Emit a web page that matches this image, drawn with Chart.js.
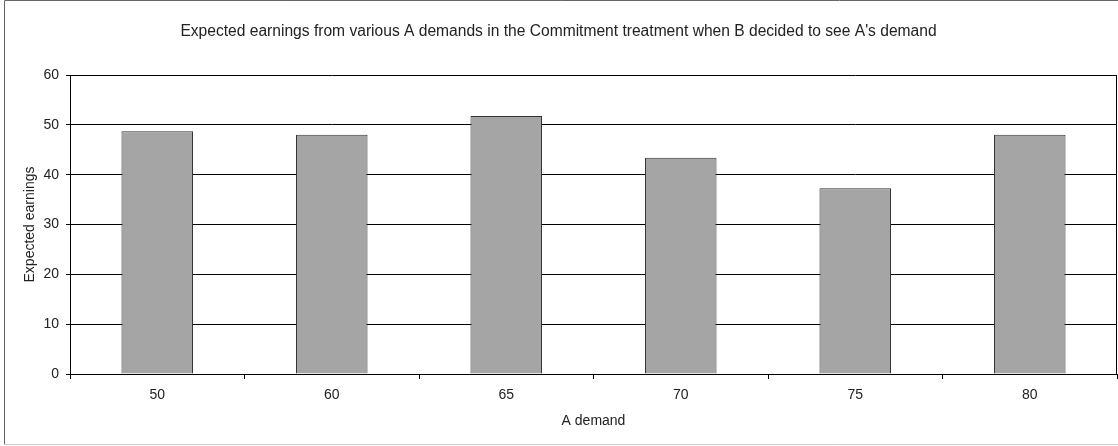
<!DOCTYPE html>
<html>
<head>
<meta charset="utf-8">
<script src="https://cdn.jsdelivr.net/npm/chart.js@4/dist/chart.umd.min.js"></script>
<style>
  html, body { margin: 0; padding: 0; background: #fff; }
  canvas { display: block; }
</style>
</head>
<body>
<canvas id="chart" width="1118" height="446"></canvas>
<script>
// data
const demands = ["50", "60", "65", "70", "75", "80"];
const earnings = [48.7, 48.0, 51.8, 43.4, 37.3, 48.0];
const yTicks = [0, 10, 20, 30, 40, 50, 60];

const fontFamily = "'Liberation Sans', Arial, sans-serif";
const textColor = "#222";

// outer frame + right edge of the plot area
const framePlugin = {
  id: "frame",
  beforeDraw(chart) {
    const ctx = chart.ctx;
    ctx.save();
    ctx.fillStyle = "#fff";
    ctx.fillRect(0, 0, chart.width, chart.height);
    ctx.lineWidth = 1;
    ctx.strokeStyle = "#666";
    ctx.beginPath();
    ctx.moveTo(4.5, 0.5);
    ctx.lineTo(chart.width, 0.5);
    ctx.moveTo(4.5, 0.5);
    ctx.lineTo(4.5, 444.5);
    ctx.stroke();
    ctx.strokeStyle = "#ccc";
    ctx.beginPath();
    ctx.moveTo(4.5, 444.5);
    ctx.lineTo(chart.width, 444.5);
    ctx.stroke();
    ctx.restore();
  },
  afterDraw(chart) {
    const a = chart.chartArea;
    const ctx = chart.ctx;
    ctx.save();
    ctx.strokeStyle = "#000";
    ctx.lineWidth = 1;
    ctx.beginPath();
    ctx.moveTo(Math.round(a.right) - 0.5, a.top);
    ctx.lineTo(Math.round(a.right) - 0.5, a.bottom);
    ctx.stroke();
    ctx.restore();
  }
};

const ctx = document.getElementById("chart").getContext("2d");
const chart = new Chart(ctx, {
  type: "bar",
  data: {
    labels: demands,
    datasets: [
      {
        label: "Expected earnings",
        data: earnings,
        backgroundColor: "#a5a5a5",
        borderColor: "#333",
        borderWidth: 1,
        barPercentage: 0.41,
        categoryPercentage: 1
      }
    ]
  },
  options: {
    responsive: false,
    animation: false,
    devicePixelRatio: 1,
    layout: { padding: { left: 0, right: 1, top: 0, bottom: 0 } },
    plugins: {
      legend: { display: false },
      tooltip: { enabled: false },
      title: {
        display: true,
        text: "Expected earnings from various A demands in the Commitment treatment when B decided to see A's demand",
        color: textColor,
        font: { family: fontFamily, size: 15.6, weight: "normal" },
        padding: { top: 22.6, bottom: 33.7 }
      }
    },
    scales: {
      x: {
        grid: {
          drawOnChartArea: false,
          offset: true,
          tickLength: 5,
          color: "#000"
        },
        border: { color: "#000" },
        ticks: {
          color: textColor,
          font: { family: fontFamily, size: 14 },
          padding: 8
        },
        title: {
          display: true,
          text: "A demand",
          color: textColor,
          font: { family: fontFamily, size: 14 },
          padding: { top: 0, bottom: 16.6 }
        },
        afterFit: scale => {
          scale.height = 72;
        }
      },
      y: {
        min: 0,
        max: 60,
        afterBuildTicks: scale => {
          scale.ticks = yTicks.map(v => ({ value: v }));
        },
        grid: {
          color: "#000",
          tickLength: 4
        },
        border: { color: "#000" },
        ticks: {
          color: textColor,
          font: { family: fontFamily, size: 14 },
          padding: 7
        },
        title: {
          display: true,
          text: "Expected earnings",
          color: textColor,
          font: { family: fontFamily, size: 14 },
          padding: { top: 21.6, bottom: 0 }
        },
        afterFit: scale => {
          scale.width = 70;
        }
      }
    }
  },
  plugins: [framePlugin]
});
</script>
</body>
</html>
